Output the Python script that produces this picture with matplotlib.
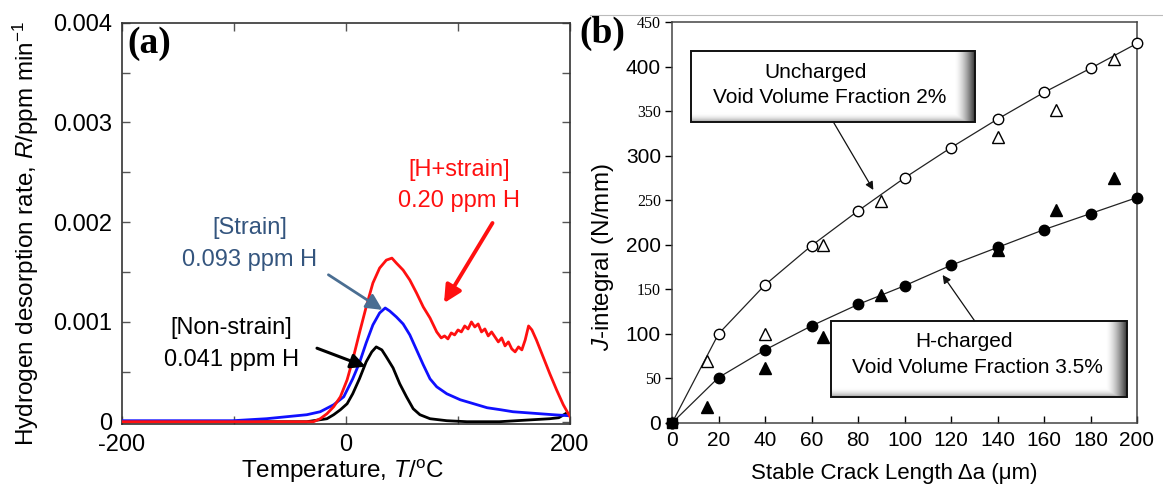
import numpy as np
import matplotlib
matplotlib.use("Agg")
import matplotlib.pyplot as plt
from matplotlib.patches import Rectangle
from matplotlib.lines import Line2D

plt.rcParams['font.family'] = ['Liberation Sans', 'DejaVu Sans']
plt.rcParams['mathtext.fontset'] = 'custom'
plt.rcParams['mathtext.rm'] = 'Liberation Sans'
plt.rcParams['mathtext.it'] = 'Liberation Sans:italic'
plt.rcParams['axes.unicode_minus'] = False

# ---------------- Panel (a) data: temperature (degC) vs desorption rate (1e-3 ppm/min)
black_T = [-200, -150, -100, -60, -35, -17, -11, -5, 1, 6, 12, 18, 23, 27, 32, 36, 42, 48, 54, 60,
           66, 75, 90, 108, 137, 167, 182, 190, 196]
black_R = [0.0, 0.0, 0.0, 0.0, 0.0, 0.03, 0.07, 0.12, 0.18, 0.28, 0.43, 0.60, 0.70, 0.75, 0.72, 0.65,
           0.54, 0.38, 0.25, 0.13, 0.07, 0.03, 0.01, 0.0, 0.0, 0.02, 0.03, 0.04, 0.08]

blue_T = [-200, -150, -101, -71, -53, -35, -23, -11, -2, 6, 12, 18, 24, 30, 35, 39, 45, 51, 57, 63,
          69, 75, 81, 90, 102, 114, 126, 138, 149, 161, 173, 185, 199]
blue_R = [0.01, 0.01, 0.01, 0.03, 0.05, 0.07, 0.10, 0.17, 0.25, 0.43, 0.59, 0.79, 0.97, 1.09, 1.14,
          1.11, 1.05, 0.98, 0.87, 0.72, 0.57, 0.43, 0.35, 0.28, 0.22, 0.18, 0.14, 0.12, 0.10, 0.09,
          0.08, 0.07, 0.06]

red_T = [-200, -150, -100, -60, -29, -23, -17, -11, -5, 1, 6, 12, 18, 24, 30, 36, 41, 45, 51, 57,
         63, 69, 75, 81, 85, 88, 91, 94, 97, 100, 103, 106, 109, 112, 115, 118, 121, 124, 127, 130,
         133, 136, 139, 142, 145, 148, 151, 154, 157, 160, 163, 166, 170, 176, 182, 188, 194, 200]
red_R = [0.0, 0.0, 0.0, 0.0, 0.0, 0.03, 0.08, 0.15, 0.25, 0.42, 0.62, 0.89, 1.15, 1.39, 1.54, 1.62,
         1.64, 1.59, 1.52, 1.42, 1.29, 1.15, 1.04, 0.90, 0.84, 0.86, 0.83, 0.89, 0.87, 0.92, 0.90,
         0.96, 0.93, 1.00, 0.95, 0.98, 0.90, 0.93, 0.86, 0.90, 0.85, 0.80, 0.84, 0.76, 0.80, 0.73,
         0.70, 0.75, 0.72, 0.82, 0.96, 0.92, 0.82, 0.65, 0.48, 0.32, 0.17, 0.05]

a_xticks = [-200, 0, 200]
a_xticklabels = ['-200', '0', '200']
a_yticks = [0, 0.001, 0.002, 0.003, 0.004]
a_yticklabels = ['0', '0.001', '0.002', '0.003', '0.004']

# ---------------- Panel (b) data: crack length (um) vs J-integral (N/mm)
unch_circ_x = [0, 20, 40, 60, 80, 100, 120, 140, 160, 180, 200]
unch_circ_y = [0, 100, 155, 199, 238, 275, 309, 341, 371, 398, 426]
hch_circ_x = [0, 20, 40, 60, 80, 100, 120, 140, 160, 180, 200]
hch_circ_y = [0, 51, 82, 109, 133, 154, 177, 197, 217, 235, 253]
unch_tri_x = [15, 40, 65, 90, 140, 165, 190]
unch_tri_y = [70, 100, 200, 249, 321, 351, 409]
hch_tri_x = [15, 40, 65, 90, 140, 165, 190]
hch_tri_y = [18, 62, 96, 144, 194, 239, 275]

b_xticks = [0, 20, 40, 60, 80, 100, 120, 140, 160, 180, 200]
b_yticks = [0, 50, 100, 150, 200, 250, 300, 350, 400, 450]

W, H = 1163, 488
fig = plt.figure(figsize=(W / 100, H / 100), dpi=100)

# ======================= Panel (a)
axa = fig.add_axes([122 / W, 1 - 424 / H, 448 / W, 401.3 / H])
R_scale = 1e-3
axa.plot(black_T, np.array(black_R) * R_scale, color='black', lw=2.0, zorder=3)
axa.plot(blue_T, np.array(blue_R) * R_scale, color='#1010ff', lw=2.0, zorder=4)
axa.plot(red_T, np.array(red_R) * R_scale, color='#ff1010', lw=2.0, zorder=5)
axa.set_xlim(-200, 200)
axa.set_ylim(-0.000023, 0.004)
axa.set_xticks(a_xticks, labels=a_xticklabels)
axa.set_xticks([-100, 100], minor=True)
axa.set_yticks(a_yticks, labels=a_yticklabels)
axa.set_yticks([0.0005, 0.0015, 0.0025, 0.0035], minor=True)
axa.tick_params(which='both', direction='in', top=True, right=True, length=6, width=1.0,
                labelsize=17, color='#555555')
axa.tick_params(axis='x', pad=7)
axa.tick_params(axis='y', pad=7)
for s in axa.spines.values():
    s.set_linewidth(1.2)
    s.set_color('#333333')
axa.set_xlabel('Temperature, $\\mathit{T}$/$^{\\mathrm{o}}$C', fontsize=17.5, va='center')
axa.xaxis.set_label_coords(0.492, -0.117)
axa.set_ylabel('Hydrogen desorption rate, $\\mathit{R}$/ppm min$^{\\mathrm{-1}}$', fontsize=17.5,
               va='center')
axa.yaxis.set_label_coords(-0.214, 0.476)
axa.text(0.011, 0.948, '(a)', transform=axa.transAxes, family='Liberation Serif',
         fontweight='bold', fontsize=27, va='center', ha='left')

# annotations (a)
axa.text(100.9, 0.002527, '[H+strain]', color='#ff1010', fontsize=17, ha='center', va='center')
axa.text(100.9, 0.002209, '0.20 ppm H', color='#ff1010', fontsize=17, ha='center', va='center')
axa.text(-85.7, 0.001942, '[Strain]', color='#34557e', fontsize=17, ha='center', va='center')
axa.text(-85.7, 0.001623, '0.093 ppm H', color='#34557e', fontsize=17, ha='center', va='center')
axa.text(-102.4, 0.000938, '[Non-strain]', color='black', fontsize=17, ha='center', va='center')
axa.text(-102.4, 0.000619, '0.041 ppm H', color='black', fontsize=17, ha='center', va='center')

axa.annotate('', xy=(87.5, 0.001189), xytext=(130.8, 0.001992),
             arrowprops=dict(arrowstyle='-|>', color='#ff1010', lw=2.8, mutation_scale=26,
                             shrinkA=0, shrinkB=0), zorder=6)
axa.annotate('', xy=(32.6, 0.001121), xytext=(-15.7, 0.001473),
             arrowprops=dict(arrowstyle='-|>', color='#4a6e92', lw=2.0, mutation_scale=24,
                             shrinkA=0, shrinkB=0), zorder=6)
axa.annotate('', xy=(17.6, 0.000552), xytext=(-25.9, 0.000737),
             arrowprops=dict(arrowstyle='-|>', color='black', lw=2.2, mutation_scale=22,
                             shrinkA=0, shrinkB=0), zorder=6)

# ======================= Panel (b)
axb = fig.add_axes([672 / W, 1 - 423 / H, 465 / W, 401 / H])
axb.plot(unch_circ_x, unch_circ_y, color='#222222', lw=0.9, zorder=3)
axb.plot(hch_circ_x, hch_circ_y, color='#222222', lw=0.9, zorder=3)
axb.plot(unch_circ_x, unch_circ_y, 'o', mfc='white', mec='black', ms=7.5, mew=1.0,
         zorder=4, clip_on=False)
axb.plot(hch_circ_x, hch_circ_y, 'o', mfc='black', mec='black', ms=7.5, mew=1.0,
         zorder=4, clip_on=False)
axb.plot(unch_tri_x, unch_tri_y, '^', mfc='white', mec='black', ms=8, mew=1.0,
         zorder=4, clip_on=False)
axb.plot(hch_tri_x, hch_tri_y, '^', mfc='black', mec='black', ms=8, mew=1.0,
         zorder=4, clip_on=False)
axb.plot([0], [0], 's', color='black', ms=7, zorder=5, clip_on=False)
axb.set_xlim(0, 200)
axb.set_ylim(0, 450)
axb.set_xticks(b_xticks)
axb.set_yticks(b_yticks, labels=[str(v) for v in b_yticks])
axb.tick_params(axis='x', direction='in', length=5, width=1.0, labelsize=15, pad=6)
axb.tick_params(axis='y', direction='out', length=5, width=1.0, labelsize=15, pad=3)
for lbl, v in zip(axb.get_yticklabels(), b_yticks):
    if v % 100 == 50:
        lbl.set_fontfamily('Liberation Serif')
        lbl.set_fontsize(11.5)
for s in axb.spines.values():
    s.set_linewidth(1.1)
    s.set_color('#444444')
axb.set_xlabel('Stable Crack Length Δa (μm)', fontsize=16, va='center')
axb.xaxis.set_label_coords(0.477, -0.125)
axb.set_ylabel('$\\mathit{J}$-integral (N/mm)', fontsize=17.5, va='center')
axb.yaxis.set_label_coords(-0.148, 0.414)


def callout(ax, x0, x1, y0, y1):
    nx, ny = 300, 80
    u = np.linspace(0, 1, nx)
    v = np.linspace(0, 1, ny)
    gx = np.clip((u - 0.93) / 0.07, 0, 1) ** 1.6 * 0.78
    gy = np.clip((v - 0.88) / 0.12, 0, 1) ** 2 * 0.35
    g = np.maximum(gx[None, :], gy[:, None])
    img = np.ones((ny, nx, 3)) * (1 - g)[..., None]
    ax.imshow(img, extent=(x0, x1, y0, y1), aspect='auto', origin='upper',
              interpolation='bilinear', zorder=6)
    ax.add_patch(Rectangle((x0, y0), x1 - x0, y1 - y0, fill=False, ec='#111111',
                           lw=1.4, zorder=7))


callout(axb, 8.2, 130.2, 337.8, 417.5)
callout(axb, 68.5, 195.7, 29.2, 114.5)
axb.set_xlim(0, 200)
axb.set_ylim(0, 450)

axb.text(61.6, 392.8, 'Uncharged', fontsize=15, ha='center', va='center', zorder=8)
axb.text(67.7, 365.8, 'Void Volume Fraction 2%', fontsize=15, ha='center', va='center', zorder=8)
axb.text(125.4, 90.9, 'H-charged', fontsize=15, ha='center', va='center', zorder=8)
axb.text(131.5, 62.8, 'Void Volume Fraction 3.5%', fontsize=15, ha='center', va='center', zorder=8)

axb.annotate('', xy=(86.6, 261.5), xytext=(69.4, 337.8),
             arrowprops=dict(arrowstyle='-|>', color='#111111', lw=0.9, mutation_scale=12,
                             shrinkA=0, shrinkB=0), zorder=8)
axb.annotate('', xy=(116.4, 166.1), xytext=(130.2, 114.5),
             arrowprops=dict(arrowstyle='-|>', color='#111111', lw=0.9, mutation_scale=12,
                             shrinkA=0, shrinkB=0), zorder=8)

fig.text(579 / W, 1 - 33 / H, '(b)', family='Liberation Serif', fontweight='bold',
         fontsize=27, va='center', ha='left')
fig.add_artist(Line2D([590 / W, 1.0], [1 - 14.5 / H, 1 - 14.5 / H], color='#bbbbbb', lw=0.8))

fig.savefig('out.png', dpi=100)
